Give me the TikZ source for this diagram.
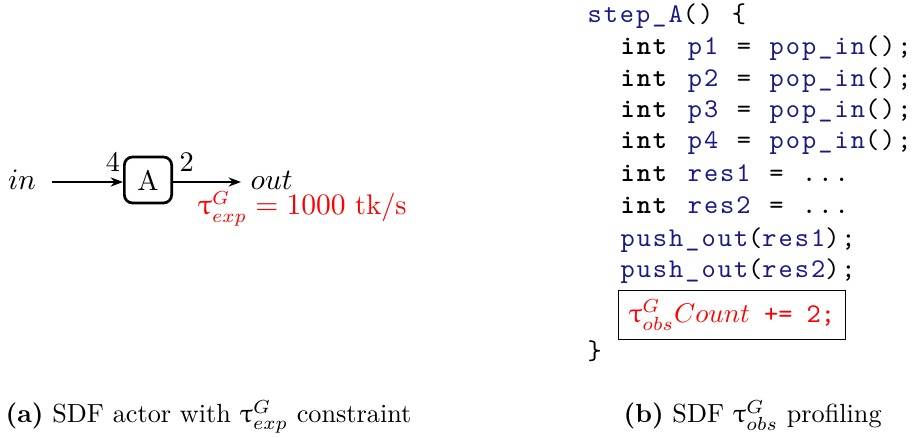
\documentclass[tikz,border=0pt]{standalone}
\usepackage{fontspec}
\usepackage{upgreek}
\usepackage{xcolor}
\usetikzlibrary{positioning,arrows.meta}

\newfontfamily\codefont{lmmono10-regular.otf}[LetterSpace=7.5,BoldFont=lmmonolt10-bold.otf,WordSpace={1.15,0,0}]
\newfontfamily\plaincode{lmmono10-regular.otf}
\definecolor{codeblue}{RGB}{25,25,135}
\newcommand{\kw}[1]{\textbf{#1}}
\newcommand{\id}[1]{\textcolor{codeblue}{#1}}

\begin{document}
\begin{tikzpicture}[
    x=0.37pt, y=-0.37pt,
    graphtext/.style={font=\fontsize{10.5}{12.6}\selectfont},
    actor/.style={rectangle, draw, line width=1pt, rounded corners=3pt, minimum width=17.5pt, minimum height=17pt, inner sep=0pt, graphtext},
    arrow/.style={-{Stealth[length=4.6pt,width=3.4pt]}, semithick},
    rate/.style={above, inner sep=3.5pt, graphtext},
    codeline/.style={anchor=base west, inner sep=0pt, font=\codefont},
    probe/.style={draw, anchor=west, inner xsep=3.7pt, minimum height=17pt, text=red, font=\plaincode},
    caption/.style={anchor=base west, inner sep=0pt, font=\fontsize{9.7}{12}\selectfont}
]
\useasboundingbox (0,0) rectangle (917,438);

% (a) actor
\node[actor] (A) at (148,180) {A};
\node[anchor=base, graphtext] (in) at (22,190) {$in$};
\node[anchor=base west, inner sep=0pt, graphtext] (out) at (250,190) {$out$};
\node[anchor=base west, inner sep=0pt, text=red, graphtext] (tau) at (197,215) {$\uptau^{G}_{exp} = 1000$ tk/s};
\draw[arrow] (52,182) -- node[rate, pos=0.86] {4} (A.west |- 0,182);
\draw[arrow] (A.east |- 0,182) -- node[rate, pos=0.2] {2} (241,182);

% (b) profiling code
\node[codeline] (l1) at (587,23) {\id{step\_A}() \{};
\node[codeline] (l2) at (620,55) {\kw{int} \id{p1} = \id{pop\_in}();};
\node[codeline] (l3) at (620,87) {\kw{int} \id{p2} = \id{pop\_in}();};
\node[codeline] (l4) at (620,118) {\kw{int} \id{p3} = \id{pop\_in}();};
\node[codeline] (l5) at (620,149) {\kw{int} \id{p4} = \id{pop\_in}();};
\node[codeline] (l6) at (620,182) {\kw{int} \id{res1} = ...};
\node[codeline] (l7) at (620,214) {\kw{int} \id{res2} = ...};
\node[codeline] (l8) at (620,247) {\id{push\_out}(\id{res1});};
\node[codeline] (l9) at (620,278) {\id{push\_out}(\id{res2});};
\node[probe] (cnt) at (618,315) {$\uptau^{G}_{obs}Count$ += 2;};
\node[codeline] (l11) at (587,360) {\}};

% captions
\node[caption] (capa) at (5,423) {\textbf{(a)} SDF actor with $\uptau^{G}_{exp}$ constraint};
\node[caption] (capb) at (623,423) {\textbf{(b)} SDF $\uptau^{G}_{obs}$ profiling};
\end{tikzpicture}
\end{document}
